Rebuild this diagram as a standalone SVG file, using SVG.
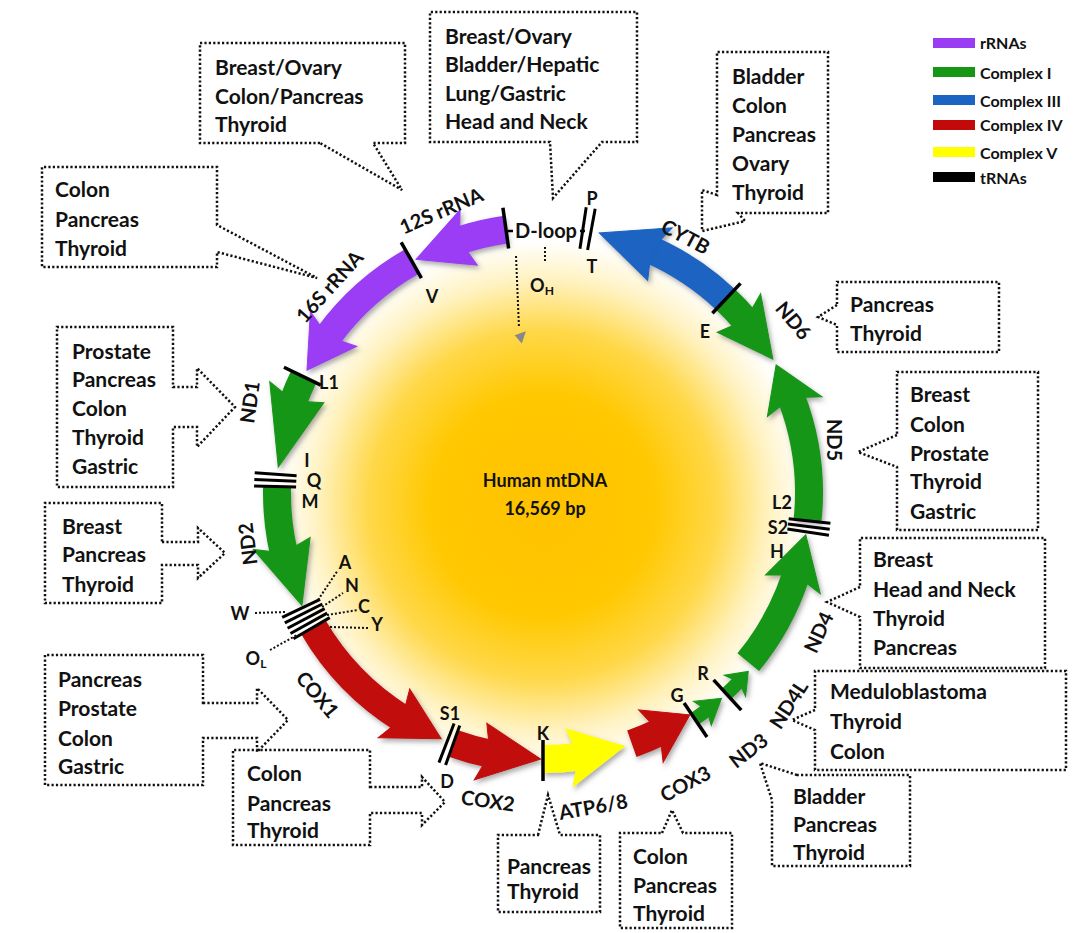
<svg xmlns="http://www.w3.org/2000/svg" width="1076" height="933" viewBox="0 0 1076 933">
<defs>
<radialGradient id="glow" cx="543" cy="505" r="265" gradientUnits="userSpaceOnUse">
<stop offset="0" stop-color="#FFC200"/>
<stop offset="0.42" stop-color="#FFC800"/>
<stop offset="0.66" stop-color="#FFD84A"/>
<stop offset="0.85" stop-color="#FFF2C0"/>
<stop offset="1" stop-color="#FFFFFF"/>
</radialGradient>
<filter id="sh" x="-30%" y="-30%" width="160%" height="160%">
<feDropShadow dx="2" dy="3" stdDeviation="2.5" flood-color="#555" flood-opacity="0.5"/>
</filter>
<line id="bar" x1="543" y1="205" x2="543" y2="246" stroke="#000" stroke-width="3.5"/>
<line id="obar" x1="543" y1="199" x2="543" y2="240" stroke="#000" stroke-width="3.5"/>
<line id="tbar" x1="543" y1="204" x2="543" y2="246" stroke="#000" stroke-width="3"/>
</defs>
<style>
.t{font-family:Lato,"Open Sans","Liberation Sans",sans-serif;font-weight:700;fill:#111}
.bt{font-size:21px;dominant-baseline:central}
.gl{font-size:20px;text-anchor:middle;dominant-baseline:central}
.tl{font-size:18px;text-anchor:middle;dominant-baseline:central}
.lg{font-size:16px;dominant-baseline:central}
.box{fill:none;stroke:#111;stroke-width:2.5;stroke-dasharray:2.2 2.2}
.dot{fill:none;stroke:#111;stroke-width:2;stroke-dasharray:2 2}
.pu{stroke:#9B3CF5;fill:#9B3CF5}
.gr{stroke:#159615;fill:#159615}
.bl{stroke:#1A64C2;fill:#1A64C2}
.rd{stroke:#C20A0A;fill:#C20A0A}
.ye{stroke:#FFFF00;fill:#FFFF00}
.band{fill:none;stroke-width:28}
.sband{fill:none;stroke-width:14}
</style>
<rect width="1076" height="933" fill="#fff"/>
<circle id="glow-bg" cx="543" cy="500" r="265" fill="url(#glow)"/>
<g id="center-label" class="t">
<text x="545" y="480" font-size="18" text-anchor="middle" dominant-baseline="central">Human mtDNA</text>
<text x="545" y="508" font-size="18" text-anchor="middle" dominant-baseline="central">16,569 bp</text>
</g>
<g id="genes" filter="url(#sh)">
<g id="g-12S"><circle class="pu band" cx="543" cy="493" r="266" stroke-dasharray="46.4 2000" transform="rotate(-108 543 493)"/><polygon class="pu" points="543,213 548,198 491.3,232.1 548,256 543,241" transform="rotate(-17.3 543 493)"/></g>
<g id="g-16S"><circle class="pu band" cx="543" cy="493" r="266" stroke-dasharray="113.7 2000" transform="rotate(-144 543 493)"/><polygon class="pu" points="543,213 548,198 499.1,230.6 548,256 543,241" transform="rotate(-53 543 493)"/></g>
<g id="g-ND1"><circle class="gr band" cx="543" cy="493" r="266" stroke-dasharray="25.1 2000" transform="rotate(-159.5 543 493)"/><polygon class="gr" points="543,213 548,198 471.5,236.8 548,256 543,241" transform="rotate(-68.8 543 493)"/></g>
<g id="g-ND2"><circle class="gr band" cx="543" cy="493" r="266" stroke-dasharray="66.9 2000" transform="rotate(-193 543 493)"/><polygon class="gr" points="543,213 548,198 483.2,233.8 548,256 543,241" transform="rotate(-102 543 493)"/></g>
<g id="g-COX1"><circle class="rd band" cx="543" cy="493" r="266" stroke-dasharray="128.6 2000" transform="rotate(-238 543 493)"/><polygon class="rd" points="543,213 548,198 494.5,231.4 548,256 543,241" transform="rotate(-147 543 493)"/></g>
<g id="g-COX2"><circle class="rd band" cx="543" cy="493" r="266" stroke-dasharray="38.1 2000" transform="rotate(-258.5 543 493)"/><polygon class="rd" points="543,213 548,198 487.7,232.8 548,256 543,241" transform="rotate(-167.5 543 493)"/></g>
<g id="g-ATP"><circle class="ye band" cx="543" cy="493" r="266" stroke-dasharray="36.2 2000" transform="rotate(82.2 543 493)"/><polygon class="ye" points="543,213 548,198 492.2,231.9 548,256 543,241" transform="rotate(173.2 543 493)"/></g>
<g id="g-COX3"><circle class="rd band" cx="543" cy="493" r="266" stroke-dasharray="30.2 2000" transform="rotate(64 543 493)"/><polygon class="rd" points="543,213 548,198 503.7,229.9 548,256 543,241" transform="rotate(155 543 493)"/></g>
<g id="g-ND3"><circle class="gr sband" cx="543" cy="493" r="272" stroke-dasharray="17.1 2000" transform="rotate(52.5 543 493)"/><polygon class="gr" points="543,214 546,206 521.6,221.8 546,236 543,228" transform="rotate(143.5 543 493)"/></g>
<g id="g-ND4L"><circle class="gr sband" cx="543" cy="493" r="272" stroke-dasharray="19.5 2000" transform="rotate(43.5 543 493)"/><polygon class="gr" points="543,214 546,206 526.4,221.5 546,236 543,228" transform="rotate(134.5 543 493)"/></g>
<g id="g-ND4"><circle class="gr band" cx="543" cy="493" r="266" stroke-dasharray="99.8 2000" transform="rotate(18 543 493)"/><polygon class="gr" points="543,213 548,198 496.8,231 548,256 543,241" transform="rotate(109 543 493)"/></g>
<g id="g-ND5"><circle class="gr band" cx="543" cy="493" r="266" stroke-dasharray="125.4 2000" transform="rotate(-21 543 493)"/><polygon class="gr" points="543,213 548,198 502.3,230.1 548,256 543,241" transform="rotate(70 543 493)"/></g>
<g id="g-ND6"><circle class="gr band" cx="543" cy="493" r="266" stroke-dasharray="28.8 2000" transform="rotate(-46.7 543 493)"/><polygon class="gr" points="543,213 538,198 595.1,232.2 538,256 543,241" transform="rotate(48.5 543 493)"/></g>
<g id="g-CYTB"><circle class="bl band" cx="543" cy="493" r="266" stroke-dasharray="89.6 2000" transform="rotate(-66 543 493)"/><polygon class="bl" points="543,213 548,198 484.1,233.6 548,256 543,241" transform="rotate(25 543 493)"/></g>
</g>
<g id="trna-bars">
<use href="#bar" transform="rotate(-8 543 493)"/>
<use href="#tbar" transform="rotate(8.6 543 493)"/>
<use href="#tbar" transform="rotate(10.4 543 493)"/>
<use href="#bar" transform="rotate(-29.5 543 493)"/>
<use href="#bar" transform="rotate(-64.1 543 493)"/>
<use href="#tbar" transform="rotate(-86 543 493)"/>
<use href="#tbar" transform="rotate(-87.3 543 493)"/>
<use href="#tbar" transform="rotate(-88.6 543 493)"/>
<use href="#tbar" transform="rotate(-115.5 543 493)"/>
<use href="#tbar" transform="rotate(-116.7 543 493)"/>
<use href="#tbar" transform="rotate(-117.9 543 493)"/>
<use href="#tbar" transform="rotate(-119.1 543 493)"/>
<use href="#tbar" transform="rotate(-120.3 543 493)"/>
<use href="#tbar" transform="rotate(-158.9 543 493)"/>
<use href="#tbar" transform="rotate(-160.3 543 493)"/>
<use href="#bar" transform="rotate(180 543 493)"/>
<use href="#obar" transform="rotate(146.1 543 493)"/>
<use href="#obar" transform="rotate(137.6 543 493)"/>
<use href="#tbar" transform="rotate(96 543 493)"/>
<use href="#tbar" transform="rotate(97.2 543 493)"/>
<use href="#tbar" transform="rotate(98.4 543 493)"/>
<use href="#bar" transform="rotate(43.3 543 493)"/>
<line x1="508" y1="231" x2="513" y2="231" stroke="#000" stroke-width="2.5"/>
<line x1="580" y1="231" x2="585" y2="231" stroke="#000" stroke-width="2.5"/>
</g>
<g id="gene-labels" class="t">
<text class="gl" transform="translate(441 210) rotate(-23)">12S rRNA</text>
<text class="gl" transform="translate(329 286) rotate(-48)">16S rRNA</text>
<text class="gl" transform="translate(249 402) rotate(-82)">ND1</text>
<text class="gl" transform="translate(247 544) rotate(-97)">ND2</text>
<text class="gl" transform="translate(318 694) rotate(50)">COX1</text>
<text class="gl" transform="translate(488 800) rotate(8)">COX2</text>
<text class="gl" transform="translate(593 806) rotate(-10)">ATP6/8</text>
<text class="gl" transform="translate(685 783) rotate(-28)">COX3</text>
<text class="gl" transform="translate(748 750) rotate(-38)">ND3</text>
<text class="gl" transform="translate(788 704) rotate(-57)">ND4L</text>
<text class="gl" transform="translate(818 632) rotate(-65)">ND4</text>
<text class="gl" transform="translate(835 440) rotate(90)">ND5</text>
<text class="gl" transform="translate(794 320) rotate(50)">ND6</text>
<text class="gl" transform="translate(686 236) rotate(28)">CYTB</text>
<text class="gl" x="546" y="230">D-loop</text>
</g>
<g id="trna-labels" class="t">
<text class="tl" x="592" y="198">P</text>
<text class="tl" x="592" y="266">T</text>
<text class="tl" x="432" y="296">V</text>
<text class="tl" x="329" y="382">L1</text>
<text class="tl" x="307" y="460">I</text>
<text class="tl" x="314" y="480">Q</text>
<text class="tl" x="310" y="501">M</text>
<text class="tl" x="345" y="562">A</text>
<text class="tl" x="352" y="585">N</text>
<text class="tl" x="364" y="606">C</text>
<text class="tl" x="377" y="624">Y</text>
<text class="tl" x="240" y="613">W</text>
<text class="tl" x="256" y="658">O<tspan font-size="12" dy="5">L</tspan></text>
<text class="tl" x="542" y="285">O<tspan font-size="12" dy="5">H</tspan></text>
<text class="tl" x="450" y="713">S1</text>
<text class="tl" x="447" y="781">D</text>
<text class="tl" x="543" y="733">K</text>
<text class="tl" x="677" y="695">G</text>
<text class="tl" x="703" y="673">R</text>
<text class="tl" x="782" y="502">L2</text>
<text class="tl" x="778" y="527">S2</text>
<text class="tl" x="777" y="551">H</text>
<text class="tl" x="705" y="331">E</text>
</g>
<g id="connectors">
<path class="dot" d="M545,247 L545,263"/>
<path class="dot" d="M516,256 L519,328"/>
<polygon points="516,333 528,333 520,343" fill="#888" transform="rotate(-20 522 338)"/>
<path class="dot" d="M255,613 L286,612"/>
<path class="dot" d="M318,600 L338,570"/>
<path class="dot" d="M322,607 L343,593"/>
<path class="dot" d="M327,615 L358,610"/>
<path class="dot" d="M330,627 L368,628"/>
<path class="dot" d="M270,650 L297,635"/>
</g>
<g id="callouts" class="t">
<g id="c-12S"><path class="box" d="M320,143 L200,143 L200,43 L405,43 L405,143 L373,143 L402,190 Z"/>
<text class="bt" x="215" y="66">Breast/Ovary</text><text class="bt" x="215" y="95">Colon/Pancreas</text><text class="bt" x="215" y="123">Thyroid</text></g>
<g id="c-Dloop"><path class="box" d="M550,142 L430,142 L430,12 L637,12 L637,142 L602,142 L553,198 Z"/>
<text class="bt" x="445" y="35">Breast/Ovary</text><text class="bt" x="445" y="63">Bladder/Hepatic</text><text class="bt" x="445" y="92">Lung/Gastric</text><text class="bt" x="445" y="120">Head and Neck</text></g>
<g id="c-16S"><path class="box" d="M217,225 L217,167 L42,167 L42,267 L217,267 L217,252 L317,278 Z"/>
<text class="bt" x="55" y="188">Colon</text><text class="bt" x="55" y="218">Pancreas</text><text class="bt" x="55" y="247">Thyroid</text></g>
<g id="c-ND1"><path class="box" d="M173,387 L197,387 L197,368 L235,407 L197,447 L197,427 L173,427 L173,487 L57,487 L57,327 L173,327 Z"/>
<text class="bt" x="72" y="350">Prostate</text><text class="bt" x="72" y="378">Pancreas</text><text class="bt" x="72" y="407">Colon</text><text class="bt" x="72" y="436">Thyroid</text><text class="bt" x="72" y="465">Gastric</text></g>
<g id="c-ND2"><path class="box" d="M162,542 L198,542 L198,528 L225,553 L198,578 L198,565 L162,565 L162,603 L45,603 L45,503 L162,503 Z"/>
<text class="bt" x="62" y="525">Breast</text><text class="bt" x="62" y="553">Pancreas</text><text class="bt" x="62" y="583">Thyroid</text></g>
<g id="c-COX1"><path class="box" d="M203,703 L257,703 L257,688 L288,720 L257,752 L257,738 L203,738 L203,785 L45,785 L45,655 L203,655 Z"/>
<text class="bt" x="58" y="678">Pancreas</text><text class="bt" x="58" y="707">Prostate</text><text class="bt" x="58" y="737">Colon</text><text class="bt" x="58" y="765">Gastric</text></g>
<g id="c-COX2"><path class="box" d="M370,787 L422,787 L422,777 L445,802 L422,825 L422,813 L370,813 L370,845 L233,845 L233,750 L370,750 Z"/>
<text class="bt" x="247" y="772">Colon</text><text class="bt" x="247" y="802">Pancreas</text><text class="bt" x="247" y="829">Thyroid</text></g>
<g id="c-ATP"><path class="box" d="M538,835 L548,795 L560,835 L600,835 L600,912 L498,912 L498,835 Z"/>
<text class="bt" x="507" y="865">Pancreas</text><text class="bt" x="507" y="890">Thyroid</text></g>
<g id="c-COX3"><path class="box" d="M662,833 L672,810 L683,833 L732,833 L732,928 L620,928 L620,833 Z"/>
<text class="bt" x="633" y="855">Colon</text><text class="bt" x="633" y="884">Pancreas</text><text class="bt" x="633" y="912">Thyroid</text></g>
<g id="c-CYTB"><path class="box" d="M717,195 L702,190 L702,231 L745,221 L738,213 L828,213 L828,52 L717,52 Z"/>
<text class="bt" x="732" y="75">Bladder</text><text class="bt" x="732" y="104">Colon</text><text class="bt" x="732" y="133">Pancreas</text><text class="bt" x="732" y="162">Ovary</text><text class="bt" x="732" y="191">Thyroid</text></g>
<g id="c-ND6"><path class="box" d="M837,305 L818,317 L837,325 L837,352 L999,352 L999,282 L837,282 Z"/>
<text class="bt" x="850" y="303">Pancreas</text><text class="bt" x="850" y="332">Thyroid</text></g>
<g id="c-ND5"><path class="box" d="M897,435 L858,452 L897,467 L897,530 L1038,530 L1038,372 L897,372 Z"/>
<text class="bt" x="910" y="393">Breast</text><text class="bt" x="910" y="423">Colon</text><text class="bt" x="910" y="452">Prostate</text><text class="bt" x="910" y="480">Thyroid</text><text class="bt" x="910" y="510">Gastric</text></g>
<g id="c-ND4"><path class="box" d="M860,587 L827,602 L860,617 L860,668 L1045,668 L1045,538 L860,538 Z"/>
<text class="bt" x="873" y="558">Breast</text><text class="bt" x="873" y="588">Head and Neck</text><text class="bt" x="873" y="617">Thyroid</text><text class="bt" x="873" y="646">Pancreas</text></g>
<g id="c-ND4L"><path class="box" d="M815,710 L792,720 L815,730 L815,770 L1066,770 L1066,671 L815,671 Z"/>
<text class="bt" x="830" y="690">Meduloblastoma</text><text class="bt" x="830" y="720">Thyroid</text><text class="bt" x="830" y="750">Colon</text></g>
<g id="c-ND3"><path class="box" d="M797,775 L760,763 L772,800 L772,866 L910,866 L910,775 Z"/>
<text class="bt" x="793" y="795">Bladder</text><text class="bt" x="793" y="823">Pancreas</text><text class="bt" x="793" y="851">Thyroid</text></g>
</g>
<g id="legend" class="t">
<rect x="933" y="38" width="42" height="10" fill="#9B3CF5"/><text class="lg" x="980" y="42">rRNAs</text>
<rect x="933" y="67" width="42" height="10" fill="#159615"/><text class="lg" x="980" y="72">Complex I</text>
<rect x="933" y="95" width="42" height="10" fill="#1A64C2"/><text class="lg" x="980" y="100">Complex III</text>
<rect x="933" y="120" width="42" height="10" fill="#C20A0A"/><text class="lg" x="980" y="124">Complex IV</text>
<rect x="933" y="147" width="42" height="10" fill="#FFFF00"/><text class="lg" x="980" y="152">Complex V</text>
<rect x="933" y="172" width="42" height="10" fill="#000"/><text class="lg" x="980" y="177">tRNAs</text>
</g>
</svg>
